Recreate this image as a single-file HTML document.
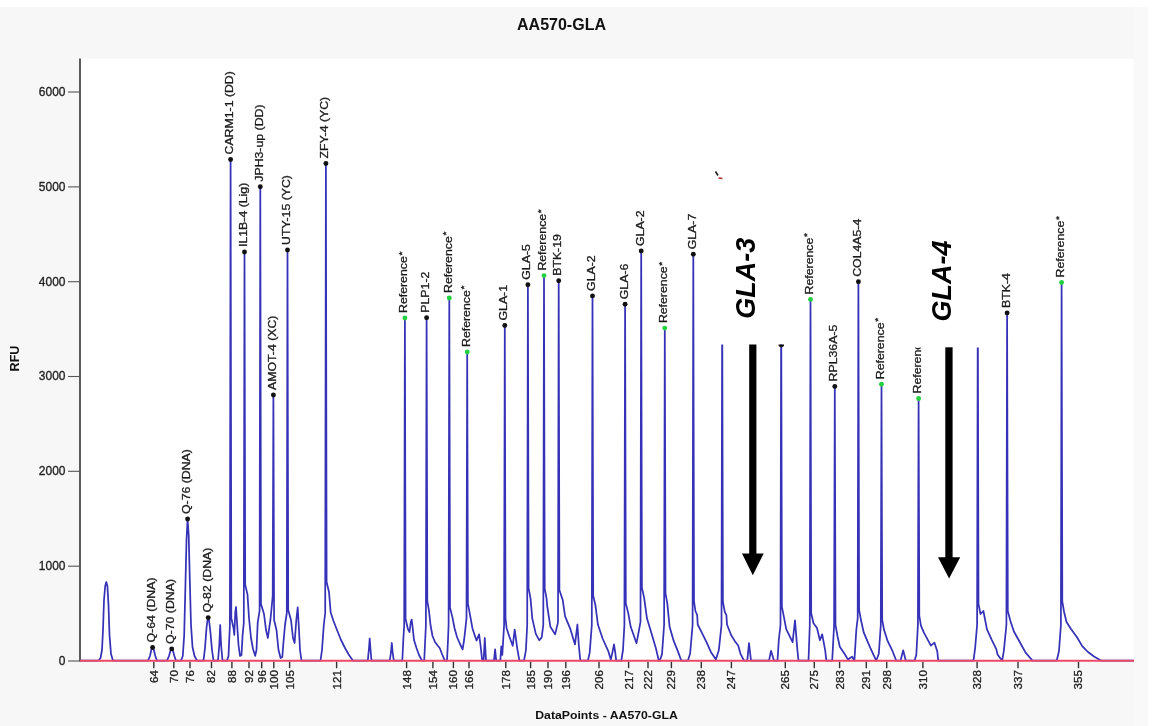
<!DOCTYPE html>
<html><head><meta charset="utf-8"><style>
html,body{margin:0;padding:0;background:#fff;width:1156px;height:726px;overflow:hidden}
svg{display:block;filter:blur(0.35px)}
text{font-family:"Liberation Sans",sans-serif}
</style></head><body>
<svg width="1156" height="726" viewBox="0 0 1156 726">
<rect x="0" y="0" width="1156" height="726" fill="#fff"/>
<rect x="0" y="7" width="1148" height="719" fill="#f7f7f7"/>
<rect x="1133.5" y="7" width="14.5" height="719" fill="#f9f9f9"/>
<rect x="80" y="58.5" width="1053.5" height="602.5" fill="#fff"/>
<text x="561.5" y="30" font-size="16" font-weight="bold" text-anchor="middle" fill="#111">AA570-GLA</text>
<text transform="translate(606.5,719.2) scale(1.022,0.92)" font-size="12" font-weight="bold" text-anchor="middle" fill="#111">DataPoints - AA570-GLA</text>
<text transform="translate(18.6,358.5) rotate(-90)" font-size="12.6" font-weight="bold" text-anchor="middle" fill="#111">RFU</text>

<g stroke="#333" stroke-width="1.6">
<line x1="80" y1="58.5" x2="80" y2="661.5"/>
<line x1="68" y1="661.0" x2="80" y2="661.0" stroke-width="1.1" stroke="#555"/>
<line x1="68" y1="566.2" x2="80" y2="566.2" stroke-width="1.1" stroke="#555"/>
<line x1="68" y1="471.3" x2="80" y2="471.3" stroke-width="1.1" stroke="#555"/>
<line x1="68" y1="376.5" x2="80" y2="376.5" stroke-width="1.1" stroke="#555"/>
<line x1="68" y1="281.7" x2="80" y2="281.7" stroke-width="1.1" stroke="#555"/>
<line x1="68" y1="186.9" x2="80" y2="186.9" stroke-width="1.1" stroke="#555"/>
<line x1="68" y1="92.0" x2="80" y2="92.0" stroke-width="1.1" stroke="#555"/>
</g>
<g font-size="12" fill="#222" stroke="#222" stroke-width="0.3" text-anchor="end">
<text transform="translate(65.5,664.9) scale(1,1.1)">0</text>
<text transform="translate(65.5,570.1) scale(1,1.1)">1000</text>
<text transform="translate(65.5,475.2) scale(1,1.1)">2000</text>
<text transform="translate(65.5,380.4) scale(1,1.1)">3000</text>
<text transform="translate(65.5,285.6) scale(1,1.1)">4000</text>
<text transform="translate(65.5,190.8) scale(1,1.1)">5000</text>
<text transform="translate(65.5,95.9) scale(1,1.1)">6000</text>
</g>
<g stroke="#333" stroke-width="1.4">
<line x1="153.8" y1="661.7" x2="153.8" y2="668.2"/>
<line x1="173.8" y1="661.7" x2="173.8" y2="668.2"/>
<line x1="190" y1="661.7" x2="190" y2="668.2"/>
<line x1="211.5" y1="661.7" x2="211.5" y2="668.2"/>
<line x1="231.9" y1="661.7" x2="231.9" y2="668.2"/>
<line x1="249" y1="661.7" x2="249" y2="668.2"/>
<line x1="261.7" y1="661.7" x2="261.7" y2="668.2"/>
<line x1="273.8" y1="661.7" x2="273.8" y2="668.2"/>
<line x1="289.6" y1="661.7" x2="289.6" y2="668.2"/>
<line x1="336.6" y1="661.7" x2="336.6" y2="668.2"/>
<line x1="406.6" y1="661.7" x2="406.6" y2="668.2"/>
<line x1="432.9" y1="661.7" x2="432.9" y2="668.2"/>
<line x1="453.4" y1="661.7" x2="453.4" y2="668.2"/>
<line x1="469" y1="661.7" x2="469" y2="668.2"/>
<line x1="505.8" y1="661.7" x2="505.8" y2="668.2"/>
<line x1="530.6" y1="661.7" x2="530.6" y2="668.2"/>
<line x1="548" y1="661.7" x2="548" y2="668.2"/>
<line x1="565.8" y1="661.7" x2="565.8" y2="668.2"/>
<line x1="599" y1="661.7" x2="599" y2="668.2"/>
<line x1="628.6" y1="661.7" x2="628.6" y2="668.2"/>
<line x1="648" y1="661.7" x2="648" y2="668.2"/>
<line x1="671.4" y1="661.7" x2="671.4" y2="668.2"/>
<line x1="701.3" y1="661.7" x2="701.3" y2="668.2"/>
<line x1="731.4" y1="661.7" x2="731.4" y2="668.2"/>
<line x1="785.3" y1="661.7" x2="785.3" y2="668.2"/>
<line x1="814.3" y1="661.7" x2="814.3" y2="668.2"/>
<line x1="839.6" y1="661.7" x2="839.6" y2="668.2"/>
<line x1="866.3" y1="661.7" x2="866.3" y2="668.2"/>
<line x1="886.7" y1="661.7" x2="886.7" y2="668.2"/>
<line x1="922.9" y1="661.7" x2="922.9" y2="668.2"/>
<line x1="977.1" y1="661.7" x2="977.1" y2="668.2"/>
<line x1="1018" y1="661.7" x2="1018" y2="668.2"/>
<line x1="1078.5" y1="661.7" x2="1078.5" y2="668.2"/>
</g>
<g font-size="11" fill="#222" stroke="#222" stroke-width="0.3" text-anchor="end">
<text transform="translate(157.7,670.2) rotate(-90) scale(1.05,1)">64</text>
<text transform="translate(177.7,670.2) rotate(-90) scale(1.05,1)">70</text>
<text transform="translate(193.9,670.2) rotate(-90) scale(1.05,1)">76</text>
<text transform="translate(215.4,670.2) rotate(-90) scale(1.05,1)">82</text>
<text transform="translate(235.8,670.2) rotate(-90) scale(1.05,1)">88</text>
<text transform="translate(252.9,670.2) rotate(-90) scale(1.05,1)">92</text>
<text transform="translate(265.6,670.2) rotate(-90) scale(1.05,1)">96</text>
<text transform="translate(277.7,670.2) rotate(-90) scale(1.05,1)">100</text>
<text transform="translate(293.5,670.2) rotate(-90) scale(1.05,1)">105</text>
<text transform="translate(340.5,670.2) rotate(-90) scale(1.05,1)">121</text>
<text transform="translate(410.5,670.2) rotate(-90) scale(1.05,1)">148</text>
<text transform="translate(436.8,670.2) rotate(-90) scale(1.05,1)">154</text>
<text transform="translate(457.3,670.2) rotate(-90) scale(1.05,1)">160</text>
<text transform="translate(472.9,670.2) rotate(-90) scale(1.05,1)">166</text>
<text transform="translate(509.7,670.2) rotate(-90) scale(1.05,1)">178</text>
<text transform="translate(534.5,670.2) rotate(-90) scale(1.05,1)">185</text>
<text transform="translate(551.9,670.2) rotate(-90) scale(1.05,1)">190</text>
<text transform="translate(569.7,670.2) rotate(-90) scale(1.05,1)">196</text>
<text transform="translate(602.9,670.2) rotate(-90) scale(1.05,1)">206</text>
<text transform="translate(632.5,670.2) rotate(-90) scale(1.05,1)">217</text>
<text transform="translate(651.9,670.2) rotate(-90) scale(1.05,1)">222</text>
<text transform="translate(675.3,670.2) rotate(-90) scale(1.05,1)">229</text>
<text transform="translate(705.2,670.2) rotate(-90) scale(1.05,1)">238</text>
<text transform="translate(735.3,670.2) rotate(-90) scale(1.05,1)">247</text>
<text transform="translate(789.2,670.2) rotate(-90) scale(1.05,1)">265</text>
<text transform="translate(818.2,670.2) rotate(-90) scale(1.05,1)">275</text>
<text transform="translate(843.5,670.2) rotate(-90) scale(1.05,1)">283</text>
<text transform="translate(870.2,670.2) rotate(-90) scale(1.05,1)">291</text>
<text transform="translate(890.6,670.2) rotate(-90) scale(1.05,1)">298</text>
<text transform="translate(926.8,670.2) rotate(-90) scale(1.05,1)">310</text>
<text transform="translate(981.0,670.2) rotate(-90) scale(1.05,1)">328</text>
<text transform="translate(1021.9,670.2) rotate(-90) scale(1.05,1)">337</text>
<text transform="translate(1082.4,670.2) rotate(-90) scale(1.05,1)">355</text>
</g>
<path d="M80.0,660.7 L98.5,660.7 L100.5,658.0 L102.0,650.0 L103.0,630.0 L104.0,600.0 L105.2,586.0 L106.3,582.0 L107.4,586.0 L108.5,605.0 L109.5,635.0 L111.0,654.0 L113.0,660.7 L148.0,660.7 L150.0,656.0 L151.3,650.0 L152.6,647.4 L153.9,650.0 L155.3,656.0 L157.0,660.7 L167.0,660.7 L169.0,656.0 L170.4,651.0 L171.7,648.9 L173.0,651.0 L174.4,656.0 L176.0,660.7 L181.0,660.7 L182.8,656.0 L184.2,635.0 L185.3,590.0 L186.5,540.0 L187.6,519.0 L188.7,535.0 L189.8,580.0 L191.0,625.0 L192.5,647.0 L194.5,656.0 L197.0,660.7 L203.5,660.7 L205.0,648.0 L206.5,628.0 L207.5,620.0 L208.2,617.6 L209.0,620.0 L210.5,633.0 L212.0,650.0 L213.5,660.7 L218.0,660.7 L219.3,645.0 L220.2,625.0 L221.1,645.0 L222.5,660.7 L227.0,660.7 L228.5,656.0 L229.9,625.0 L230.6,159.5 L231.3,618.0 L233.5,628.0 L234.3,635.0 L235.3,612.0 L236.0,607.0 L237.0,622.0 L238.5,645.0 L240.0,656.0 L241.5,655.0 L242.6,635.0 L243.8,623.0 L244.5,252.0 L245.2,584.6 L247.5,594.6 L249.0,618.0 L251.0,638.0 L253.0,649.0 L255.2,655.8 L256.5,650.0 L257.7,622.7 L259.6,610.7 L260.3,186.7 L261.0,604.0 L264.0,614.0 L266.0,630.0 L267.9,638.0 L269.2,628.0 L270.4,620.0 L271.6,608.0 L272.7,596.0 L273.4,395.0 L274.1,620.0 L276.5,630.0 L278.5,650.0 L280.6,658.0 L282.3,657.0 L283.4,643.0 L285.0,625.0 L286.8,613.0 L287.5,250.0 L288.2,610.0 L291.0,620.0 L293.0,638.0 L294.6,643.0 L296.3,620.0 L297.7,607.4 L299.0,630.0 L300.0,650.0 L301.5,660.7 L320.5,660.7 L322.0,650.0 L323.8,625.0 L325.2,613.0 L325.9,163.5 L326.6,582.0 L329.0,592.0 L330.7,612.5 L333.5,621.0 L337.0,630.0 L341.0,640.0 L345.0,648.0 L349.0,655.0 L353.0,660.7 L367.8,660.7 L369.0,648.0 L369.7,638.5 L370.4,648.0 L371.5,660.7 L389.8,660.7 L391.0,652.0 L391.8,643.0 L392.6,652.0 L393.8,660.7 L402.3,660.7 L403.3,640.0 L404.2,625.0 L404.9,318.0 L405.6,619.0 L407.9,629.0 L409.5,632.0 L410.8,622.0 L411.7,619.6 L412.7,628.0 L414.0,640.0 L416.5,648.0 L419.0,655.0 L422.0,660.7 L424.2,660.7 L425.2,640.0 L425.9,625.0 L426.6,317.7 L427.3,601.0 L429.0,611.0 L430.5,625.0 L432.5,636.0 L435.0,642.0 L438.0,646.0 L439.7,648.0 L442.0,654.0 L444.8,660.7 L447.0,660.7 L448.0,640.0 L448.6,625.0 L449.3,298.0 L450.0,607.6 L452.5,617.6 L454.5,628.0 L457.0,637.0 L460.0,644.0 L462.6,649.4 L464.1,640.0 L465.2,630.3 L466.5,618.3 L467.2,352.0 L467.9,603.7 L469.8,613.7 L472.4,628.2 L476.5,640.6 L479.1,634.4 L480.5,645.0 L482.2,660.7 L483.6,660.7 L484.8,638.0 L486.0,660.7 L494.0,660.7 L495.1,649.4 L496.2,660.7 L500.3,660.7 L501.3,646.3 L502.3,655.0 L504.1,625.0 L504.8,325.5 L505.5,618.2 L506.6,628.2 L509.5,637.0 L512.7,645.8 L514.7,629.7 L517.3,648.8 L519.4,660.7 L524.0,660.7 L525.9,650.3 L527.2,625.0 L527.9,284.7 L528.6,588.1 L530.5,598.1 L532.3,618.6 L535.8,633.9 L539.3,640.3 L541.7,637.4 L543.3,625.0 L544.0,275.6 L544.7,588.7 L546.6,598.7 L547.2,606.0 L550.4,626.8 L555.1,634.4 L558.0,622.4 L558.7,280.8 L559.4,589.9 L562.7,599.9 L565.1,616.3 L570.4,629.2 L575.0,644.4 L577.4,624.5 L578.8,645.0 L580.3,660.7 L587.9,660.7 L589.7,652.6 L591.8,625.0 L592.5,295.9 L593.2,595.8 L595.5,605.8 L597.9,624.5 L602.6,638.5 L608.4,651.4 L610.8,659.6 L612.5,652.0 L614.0,644.4 L615.3,653.0 L616.2,660.7 L621.3,660.7 L623.0,650.0 L624.4,625.0 L625.1,304.2 L625.8,603.4 L628.3,613.4 L630.7,626.8 L636.5,643.2 L638.3,633.9 L640.5,621.9 L641.2,251.0 L641.9,587.6 L644.1,597.6 L647.0,618.6 L651.7,633.9 L655.8,647.9 L658.8,660.7 L659.7,660.7 L662.0,654.4 L664.1,625.0 L664.8,328.1 L665.5,593.4 L667.3,603.4 L669.6,626.8 L673.7,640.9 L678.4,652.6 L681.3,660.7 L687.8,660.7 L690.1,653.8 L692.6,625.0 L693.3,254.3 L694.0,601.0 L695.4,611.0 L697.2,615.1 L697.7,624.5 L701.8,632.7 L706.5,642.1 L711.2,652.6 L715.9,659.6 L718.8,650.3 L721.5,625.0 L722.2,300.0 L722.9,601.6 L724.7,611.6 L726.4,615.1 L727.0,624.5 L731.1,635.0 L734.7,640.9 L738.2,645.6 L740.5,653.8 L744.0,660.7 L747.3,660.7 L749.0,643.2 L751.0,660.7 L769.0,660.7 L771.0,650.8 L774.0,660.7 L777.5,660.7 L778.8,640.0 L780.5,625.0 L781.2,300.0 L781.9,606.9 L783.9,616.9 L786.2,629.2 L792.6,642.1 L795.0,620.4 L797.3,649.1 L798.5,660.7 L808.5,660.7 L809.8,625.0 L810.5,299.4 L811.2,613.3 L813.5,623.3 L817.0,628.0 L819.9,640.3 L822.2,634.4 L825.2,650.3 L826.3,660.7 L832.2,660.7 L834.1,625.0 L834.8,386.4 L835.5,625.0 L837.5,636.2 L839.8,646.7 L844.5,653.8 L848.0,659.6 L850.0,658.0 L852.1,656.7 L854.4,660.7 L856.3,630.0 L857.7,618.0 L858.4,281.8 L859.1,609.8 L860.9,619.8 L863.8,632.7 L870.3,647.9 L876.2,660.7 L878.8,653.8 L880.8,625.0 L881.5,384.2 L882.2,619.8 L884.0,629.8 L887.6,640.9 L892.2,650.3 L896.3,660.7 L900.5,660.7 L903.2,650.3 L905.8,660.7 L914.5,660.7 L916.3,655.0 L917.9,625.0 L918.6,398.5 L919.3,615.7 L920.9,625.7 L923.9,632.7 L930.9,645.6 L934.4,642.6 L937.3,651.4 L938.2,660.7 L973.5,660.7 L975.2,647.3 L977.1,625.0 L977.8,300.0 L978.5,604.0 L980.5,614.0 L983.4,611.0 L986.9,629.2 L991.6,639.7 L996.3,649.1 L997.5,654.4 L1002.2,660.7 L1003.9,650.3 L1006.4,625.0 L1007.1,312.9 L1007.8,611.0 L1010.4,621.0 L1013.9,631.5 L1018.5,639.7 L1025.6,652.6 L1032.6,660.7 L1056.7,660.7 L1059.0,651.0 L1060.9,625.0 L1061.6,282.5 L1062.3,601.5 L1064.0,611.5 L1066.5,622.0 L1071.0,629.0 L1077.0,637.3 L1082.4,646.4 L1088.0,652.0 L1094.0,656.5 L1101.4,660.7 L1134.0,660.7" fill="none" stroke="#3632b8" stroke-width="1.75" stroke-linejoin="round"/>
<line x1="80" y1="660.7" x2="1134" y2="660.7" stroke="#ec4868" stroke-width="2"/>
<g font-size="11" fill="#1a1a1a" stroke="#1a1a1a" stroke-width="0.3">
<text transform="translate(155.0,642.4) rotate(-90) scale(1.12,1)">Q-64 (DNA)</text>
<text transform="translate(174.1,643.9) rotate(-90) scale(1.12,1)">Q-70 (DNA)</text>
<text transform="translate(190.0,514.0) rotate(-90) scale(1.12,1)">Q-76 (DNA)</text>
<text transform="translate(210.6,612.6) rotate(-90) scale(1.12,1)">Q-82 (DNA)</text>
<text transform="translate(233.0,154.5) rotate(-90) scale(1.12,1)">CARM1-1 (DD)</text>
<text transform="translate(246.9,247.0) rotate(-90) scale(1.12,1)">IL1B-4 (Lig)</text>
<text transform="translate(262.7,181.7) rotate(-90) scale(1.12,1)">JPH3-up (DD)</text>
<text transform="translate(275.8,390.0) rotate(-90) scale(1.12,1)">AMOT-4 (XC)</text>
<text transform="translate(289.9,245.0) rotate(-90) scale(1.12,1)">UTY-15 (YC)</text>
<text transform="translate(328.3,158.5) rotate(-90) scale(1.12,1)">ZFY-4 (YC)</text>
<text transform="translate(407.3,313.0) rotate(-90) scale(1.12,1)">Reference<tspan font-size="9" dx="0.6" dy="-2.5">*</tspan></text>
<text transform="translate(429.0,312.7) rotate(-90) scale(1.12,1)">PLP1-2</text>
<text transform="translate(451.7,293.0) rotate(-90) scale(1.12,1)">Reference<tspan font-size="9" dx="0.6" dy="-2.5">*</tspan></text>
<text transform="translate(469.6,347.0) rotate(-90) scale(1.12,1)">Reference<tspan font-size="9" dx="0.6" dy="-2.5">*</tspan></text>
<text transform="translate(507.2,320.5) rotate(-90) scale(1.12,1)">GLA-1</text>
<text transform="translate(530.3,279.7) rotate(-90) scale(1.12,1)">GLA-5</text>
<text transform="translate(546.4,270.6) rotate(-90) scale(1.12,1)">Reference<tspan font-size="9" dx="0.6" dy="-2.5">*</tspan></text>
<text transform="translate(561.1,275.8) rotate(-90) scale(1.12,1)">BTK-19</text>
<text transform="translate(594.9,290.9) rotate(-90) scale(1.12,1)">GLA-2</text>
<text transform="translate(627.5,299.2) rotate(-90) scale(1.12,1)">GLA-6</text>
<text transform="translate(643.6,246.0) rotate(-90) scale(1.12,1)">GLA-2</text>
<text transform="translate(667.2,323.1) rotate(-90) scale(1.12,1)">Reference<tspan font-size="9" dx="0.6" dy="-2.5">*</tspan></text>
<text transform="translate(695.7,249.3) rotate(-90) scale(1.12,1)">GLA-7</text>
<text transform="translate(812.9,294.4) rotate(-90) scale(1.12,1)">Reference<tspan font-size="9" dx="0.6" dy="-2.5">*</tspan></text>
<text transform="translate(837.2,381.4) rotate(-90) scale(1.12,1)">RPL36A-5</text>
<text transform="translate(860.8,276.8) rotate(-90) scale(1.12,1)">COL4A5-4</text>
<text transform="translate(883.9,379.2) rotate(-90) scale(1.12,1)">Reference<tspan font-size="9" dx="0.6" dy="-2.5">*</tspan></text>
<text transform="translate(921.0,393.5) rotate(-90) scale(1.12,1)">Reference<tspan font-size="9" dx="0.6" dy="-2.5">*</tspan></text>
<text transform="translate(1009.5,307.9) rotate(-90) scale(1.12,1)">BTK-4</text>
<text transform="translate(1064.0,277.5) rotate(-90) scale(1.12,1)">Reference<tspan font-size="9" dx="0.6" dy="-2.5">*</tspan></text>
</g>
<circle cx="152.6" cy="647.4" r="2.45" fill="#111"/>
<circle cx="171.7" cy="648.9" r="2.45" fill="#111"/>
<circle cx="187.6" cy="519" r="2.45" fill="#111"/>
<circle cx="208.2" cy="617.6" r="2.45" fill="#111"/>
<circle cx="230.6" cy="159.5" r="2.45" fill="#111"/>
<circle cx="244.5" cy="252" r="2.45" fill="#111"/>
<circle cx="260.3" cy="186.7" r="2.45" fill="#111"/>
<circle cx="273.4" cy="395" r="2.45" fill="#111"/>
<circle cx="287.5" cy="250" r="2.45" fill="#111"/>
<circle cx="325.9" cy="163.5" r="2.45" fill="#111"/>
<circle cx="404.9" cy="318" r="2.45" fill="#22d040"/>
<circle cx="426.6" cy="317.7" r="2.45" fill="#111"/>
<circle cx="449.3" cy="298" r="2.45" fill="#22d040"/>
<circle cx="467.2" cy="352" r="2.45" fill="#22d040"/>
<circle cx="504.8" cy="325.5" r="2.45" fill="#111"/>
<circle cx="527.9" cy="284.7" r="2.45" fill="#111"/>
<circle cx="544" cy="275.6" r="2.45" fill="#22d040"/>
<circle cx="558.7" cy="280.8" r="2.45" fill="#111"/>
<circle cx="592.5" cy="295.9" r="2.45" fill="#111"/>
<circle cx="625.1" cy="304.2" r="2.45" fill="#111"/>
<circle cx="641.2" cy="251" r="2.45" fill="#111"/>
<circle cx="664.8" cy="328.1" r="2.45" fill="#22d040"/>
<circle cx="693.3" cy="254.3" r="2.45" fill="#111"/>
<circle cx="810.5" cy="299.4" r="2.45" fill="#22d040"/>
<circle cx="834.8" cy="386.4" r="2.45" fill="#111"/>
<circle cx="858.4" cy="281.8" r="2.45" fill="#111"/>
<circle cx="881.5" cy="384.2" r="2.45" fill="#22d040"/>
<circle cx="918.6" cy="398.5" r="2.45" fill="#22d040"/>
<circle cx="1007.1" cy="312.9" r="2.45" fill="#111"/>
<circle cx="1061.6" cy="282.5" r="2.45" fill="#22d040"/>
<rect x="700" y="165" width="98" height="179.5" fill="#fff"/>
<rect x="912" y="170" width="71" height="177.5" fill="#fff"/>
<path d="M778.5,344.5 A2.8,2.8 0 0 0 784.1,344.5 Z" fill="#111"/>
<path d="M715.5,171.5 L718,175.5" stroke="#222" stroke-width="1.6"/><path d="M718.5,178 L722.5,178.5" stroke="#a33" stroke-width="1.6"/>
<text transform="translate(755.1,318.8) rotate(-90)" font-size="27" font-weight="bold" font-style="italic" fill="#000">GLA-3</text>
<text transform="translate(951,321.5) rotate(-90)" font-size="27" font-weight="bold" font-style="italic" fill="#000">GLA-4</text>
<rect x="749.2" y="344.5" width="7.2" height="210" fill="#000"/><path d="M742,553.6 L763.7,553.6 L752.8,575.2 Z" fill="#000"/>
<rect x="945.3" y="347.3" width="7.3" height="211" fill="#000"/><path d="M938,557.3 L960.2,557.3 L949.1,578.4 Z" fill="#000"/>
</svg></body></html>
